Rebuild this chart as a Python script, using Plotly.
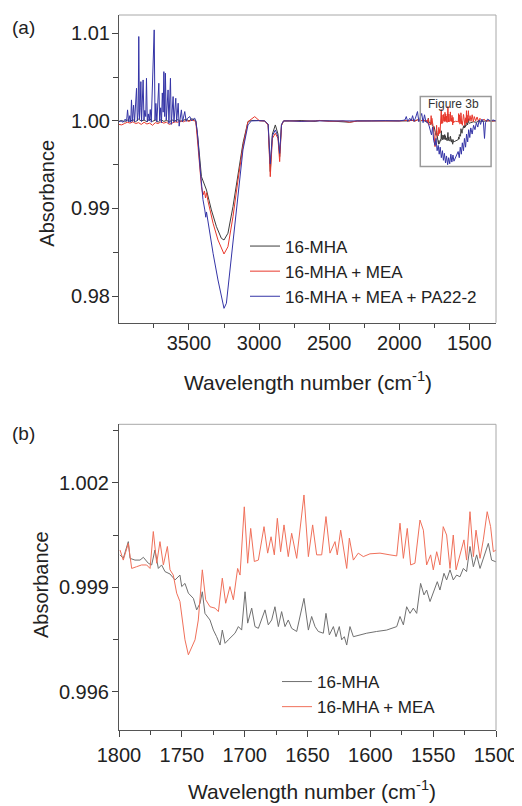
import plotly.graph_objects as go

# ---------------- Panel (a): full spectrum ----------------
# 16-MHA, high-wavenumber part (4000 -> 1810 cm-1)
a_mha_wn_hi = [4000, 3980, 3960, 3940, 3920, 3900, 3880, 3860, 3840, 3820, 3800, 3780, 3760, 3740,
               3720, 3700, 3680, 3660, 3640, 3620, 3600, 3580, 3560, 3540, 3520, 3500, 3480, 3460,
               3451, 3435, 3411, 3375, 3340, 3304, 3269, 3250, 3222, 3186, 3150, 3115, 3079, 3055,
               3000, 2960, 2935, 2920, 2905, 2884, 2865, 2853, 2840, 2825, 2780, 2700, 2600, 2568,
               2500, 2400, 2355, 2300, 2200, 2100, 2000, 1950, 1930, 1910, 1890, 1870, 1850, 1830, 1810]
a_mha_abs_hi = [0.99995, 1.00005, 0.99990, 1.00010, 0.99995, 1.00015, 0.99990, 1.00020, 1.00000, 1.00010,
                0.99990, 1.00025, 0.99995, 1.00010, 0.99985, 1.00015, 0.99995, 1.00005, 0.99990, 1.00010,
                1.00000, 1.00015, 0.99995, 1.00005, 1.00020, 1.00000, 1.00025, 1.00010,
                1.00000, 0.99783, 0.99363, 0.99211, 0.98983, 0.98792, 0.98659, 0.98640, 0.98717, 0.99021,
                0.99402, 0.99745, 0.99992, 1.00005,
                1.00005, 1.00000, 0.99960, 0.99421, 0.99850, 0.99954, 0.99850, 0.99592, 0.99950, 1.00000,
                1.00000, 1.00005, 0.99995, 1.00005, 1.00000, 0.99995, 0.99985, 1.00000, 1.00002, 0.99998,
                1.00000, 1.00005, 1.00000, 1.00010, 0.99998, 1.00012, 1.00000, 1.00008, 0.99998]
a_mha_wn_lo = [1490, 1470, 1450, 1430, 1410, 1390, 1370, 1350, 1330, 1310]
a_mha_abs_lo = [0.99980, 0.99990, 0.99985, 1.00000, 0.99995, 1.00000, 1.00002, 0.99998, 1.00000, 1.00000]

# 16-MHA + MEA
a_mea_wn_hi = [4000, 3980, 3960, 3940, 3920, 3900, 3880, 3860, 3840, 3820, 3800, 3780, 3760, 3740,
               3720, 3700, 3680, 3660, 3640, 3620, 3600, 3580, 3560, 3540, 3520, 3500, 3480, 3460,
               3451, 3435, 3411, 3400, 3390, 3382, 3375, 3365, 3328, 3293, 3250, 3222, 3186, 3150,
               3115, 3079, 3031, 2996, 2960, 2935, 2920, 2905, 2884, 2865, 2853, 2840, 2825, 2780,
               2700, 2600, 2568, 2500, 2400, 2355, 2300, 2200, 2100, 2000, 1950, 1930, 1910, 1890,
               1870, 1850, 1830, 1810]
a_mea_abs_hi = [0.99960, 0.99955, 0.99970, 0.99985, 0.99975, 0.99990, 0.99970, 0.99980, 0.99960, 0.99985,
                0.99965, 0.99975, 0.99950, 0.99980, 0.99970, 0.99990, 0.99975, 0.99985, 0.99960, 0.99980,
                0.99990, 0.99985, 1.00000, 0.99990, 1.00005, 0.99995, 1.00010, 1.00000,
                0.99990, 0.99700, 0.99250, 0.99154, 0.99200, 0.99120, 0.99180, 0.99090, 0.98831, 0.98640,
                0.98480, 0.98563, 0.98906, 0.99326,
                0.99706, 0.99992, 1.00049, 1.00000, 1.00000, 0.99950, 0.99363, 0.99800, 0.99859, 0.99800,
                0.99535, 0.99950, 1.00000, 1.00000,
                0.99995, 1.00000, 1.00005, 0.99995, 1.00000, 0.99985, 0.99998, 1.00000, 0.99998, 1.00000,
                1.00005, 1.00000, 1.00008, 0.99998,
                1.00012, 1.00000, 1.00010, 1.00000]
a_mea_wn_lo = [1495, 1488, 1480, 1472, 1465, 1455, 1445, 1435, 1425, 1410, 1395, 1380, 1360, 1340, 1320, 1310]
a_mea_abs_lo = [1.00060, 0.99995, 1.00070, 0.99990, 1.00050, 1.00000, 1.00045, 0.99995, 1.00030, 1.00000,
                1.00020, 0.99995, 1.00005, 0.99998, 1.00002, 1.00000]

# 16-MHA + MEA + PA22-2
a_pa_wn = [4000, 3985, 3970, 3955, 3945, 3938, 3930, 3922, 3915, 3910, 3903, 3895, 3888, 3880, 3874,
           3868, 3862, 3858, 3853, 3848, 3843, 3838, 3832, 3827, 3821, 3815, 3808, 3803, 3797, 3790,
           3783, 3776, 3769, 3763, 3755, 3748, 3742, 3736, 3729, 3722, 3715, 3709, 3702, 3696, 3690,
           3684, 3679, 3673, 3668, 3662, 3656, 3649, 3643, 3638, 3632, 3626, 3619, 3613, 3607, 3600,
           3594, 3588, 3582, 3577, 3570, 3563, 3554, 3546, 3538, 3530, 3520, 3510, 3494, 3480, 3470,
           3459, 3451, 3440, 3420, 3411, 3400, 3387, 3380, 3375, 3364, 3345, 3328, 3293, 3262, 3250,
           3233, 3210, 3186, 3150, 3115, 3079, 3055, 3000, 2960, 2935, 2920, 2905, 2884, 2865, 2853,
           2840, 2825, 2780, 2700, 2600, 2500, 2400, 2300, 2200, 2100, 2050, 2000, 1960, 1950, 1940,
           1925, 1915, 1905, 1895, 1885, 1870, 1860, 1850, 1840, 1830, 1820, 1810, 1800, 1790, 1780,
           1770, 1762, 1755, 1745, 1738, 1730, 1722, 1715, 1708, 1700, 1692, 1685, 1678, 1670, 1663,
           1655, 1648, 1640, 1632, 1625, 1617, 1610, 1600, 1590, 1580, 1572, 1565, 1557, 1550, 1542,
           1535, 1527, 1520, 1512, 1505, 1497, 1490, 1480, 1470, 1460, 1450, 1440, 1430, 1420, 1410,
           1400, 1392, 1385, 1370, 1350, 1330, 1310]
a_pa_abs = [0.99990, 1.00000, 0.99985, 1.00020, 0.99995, 1.00126, 0.99990, 1.00060, 0.99985, 1.00240,
            0.99995, 1.00180, 0.99990, 1.00250, 1.00373, 1.00000, 1.00100, 1.00964, 1.00020, 1.00150,
            1.00449, 0.99995, 1.00200, 1.00468, 1.00010, 1.00120, 1.00050, 1.00487, 0.99990, 1.00080,
            1.00000, 1.00130, 0.99985, 1.00240, 1.00678, 1.01040, 1.00010, 1.00200, 0.99990, 1.00280,
            1.00430, 1.00000, 1.00150, 0.99980, 1.00320, 1.00100, 1.00563, 1.00050, 1.00545, 1.00010,
            1.00250, 1.00354, 0.99970, 1.00180, 1.00487, 0.99960, 1.00120, 1.00278, 0.99985, 1.00150,
            1.00259, 0.99990, 1.00080, 1.00202, 0.99940, 1.00050, 1.00126, 0.99990, 1.00040, 1.00107,
            0.99995, 1.00030, 1.00050, 1.00000, 1.00020,
            1.00031, 1.00000, 0.99870, 0.99450, 0.99288, 0.99100, 0.98983, 0.98900, 0.98960, 0.98849,
            0.98650, 0.98488, 0.98183, 0.97917, 0.97859,
            0.97917, 0.98259, 0.98678, 0.99211, 0.99669, 0.99954, 1.00000, 1.00003, 1.00000, 0.99960,
            0.99510, 0.99830, 0.99897, 0.99820, 0.99630,
            0.99960, 1.00000, 1.00000, 0.99995, 1.00000, 0.99998, 1.00000, 0.99995, 1.00000, 1.00003,
            0.99998, 1.00000, 1.00010, 1.00050, 0.99995,
            1.00030, 1.00000, 1.00060, 0.99995, 1.00030, 1.00107, 0.99990, 1.00040, 1.00085, 0.99980,
            1.00070, 0.99990, 0.99985, 0.99960, 0.99900,
            0.99840, 0.99930, 0.99780, 0.99720, 0.99800, 0.99660, 0.99720, 0.99620, 0.99700, 0.99580,
            0.99660, 0.99550, 0.99630, 0.99520, 0.99600,
            0.99500, 0.99580, 0.99510, 0.99620, 0.99530, 0.99610, 0.99540, 0.99580, 0.99600, 0.99650,
            0.99580, 0.99700, 0.99620, 0.99750, 0.99660,
            0.99800, 0.99700, 0.99850, 0.99760, 0.99900, 0.99810, 0.99920, 0.99850, 0.99950, 0.99900,
            0.99980, 0.99930, 1.00010, 0.99960, 1.00020,
            0.99990, 0.99800, 0.99980, 1.00020, 1.00000, 1.00010, 1.00000]

# ---------------- Panel (b): 1800-1500 cm-1 detail ----------------
b_mha_wn = [1799.2, 1796.6, 1792.6, 1791.2, 1787.3, 1783.3, 1780.6, 1776.7, 1774.0, 1771.4, 1768.7,
            1766.1, 1763.4, 1759.4, 1755.4, 1751.5, 1750.1, 1747.5, 1744.8, 1740.8, 1738.2, 1735.5,
            1733.7, 1731.6, 1727.6, 1724.9, 1722.3, 1719.6, 1717.8, 1715.6, 1713.0, 1710.3, 1707.7,
            1705.0, 1702.4, 1699.7, 1697.6, 1694.4, 1691.8, 1689.1, 1686.5, 1683.8, 1681.2, 1678.5,
            1675.9, 1673.2, 1670.6, 1667.9, 1665.3, 1662.6, 1658.6, 1652.8, 1649.3, 1646.7, 1644.0,
            1641.4, 1637.4, 1635.3, 1632.6, 1629.4, 1627.3, 1624.7, 1622.8, 1620.7, 1618.8, 1616.2,
            1613.5, 1608.2, 1602.9, 1595.0, 1587.0, 1579.0, 1576.4, 1573.7, 1571.1, 1568.4, 1565.8,
            1563.1, 1560.0, 1557.3, 1555.2, 1552.5, 1549.9, 1546.7, 1544.6, 1541.4, 1539.3, 1536.6,
            1534.0, 1531.3, 1528.7, 1526.0, 1523.4, 1520.7, 1518.0, 1515.4, 1512.7, 1510.1, 1506.1,
            1503.5, 1500.0]
b_mha_abs = [0.99993, 0.99983, 1.00031, 0.99983, 0.99978, 0.99978, 0.99986, 0.99969, 0.99964, 1.00007,
             0.99954, 0.99964, 0.99945, 0.99938, 0.99921, 0.99935, 0.99902, 0.99911, 0.99883, 0.99868,
             0.99835, 0.99854, 0.99887, 0.99825, 0.99806, 0.99777, 0.99758, 0.99734, 0.99777, 0.99739,
             0.99749, 0.99758, 0.99768, 0.99787, 0.99777, 0.99887, 0.99797, 0.99840, 0.99787, 0.99782,
             0.99806, 0.99835, 0.99792, 0.99806, 0.99844, 0.99787, 0.99830, 0.99787, 0.99806, 0.99782,
             0.99773, 0.99868, 0.99777, 0.99816, 0.99787, 0.99773, 0.99768, 0.99825, 0.99763, 0.99787,
             0.99758, 0.99787, 0.99749, 0.99758, 0.99734, 0.99787, 0.99758, 0.99763, 0.99768, 0.99773,
             0.99777, 0.99787, 0.99816, 0.99792, 0.99844, 0.99825, 0.99840, 0.99825, 0.99911, 0.99878,
             0.99892, 0.99859, 0.99887, 0.99916, 0.99892, 0.99940, 0.99921, 0.99950, 0.99921, 0.99935,
             0.99930, 0.99954, 0.99945, 1.00017, 0.99959, 0.99993, 0.99954, 0.99983, 1.00026, 0.99978,
             0.99973]
b_mea_wn = [1799.2, 1796.6, 1792.6, 1789.9, 1786.0, 1782.0, 1778.0, 1775.3, 1772.7, 1770.0, 1767.4,
            1764.7, 1761.5, 1759.4, 1756.8, 1754.1, 1751.5, 1750.1, 1747.5, 1744.8, 1742.2, 1739.5,
            1736.9, 1733.7, 1731.0, 1727.6, 1723.6, 1720.9, 1717.8, 1715.1, 1711.7, 1709.0, 1705.6,
            1703.7, 1700.3, 1697.6, 1695.2, 1692.3, 1689.1, 1684.6, 1681.7, 1679.0, 1676.4, 1674.0,
            1671.4, 1668.7, 1665.3, 1662.6, 1658.6, 1652.8, 1649.3, 1645.9, 1642.7, 1638.7, 1635.3,
            1632.1, 1628.1, 1626.3, 1623.6, 1618.8, 1616.7, 1613.5, 1609.6, 1605.6, 1600.3, 1592.3,
            1584.4, 1579.0, 1576.4, 1573.7, 1570.6, 1567.9, 1564.5, 1560.5, 1557.8, 1555.2, 1552.0,
            1549.9, 1547.2, 1544.6, 1542.0, 1539.3, 1536.6, 1534.0, 1531.8, 1528.1, 1525.5, 1523.4,
            1520.7, 1518.0, 1515.9, 1512.7, 1510.1, 1507.0, 1504.3, 1502.1, 1500.0]
b_mea_abs = [1.00007, 0.99978, 1.00026, 0.99954, 0.99959, 0.99964, 0.99964, 0.99954, 1.00060, 0.99969,
             1.00031, 0.99964, 1.00017, 0.99950, 0.99935, 0.99883, 0.99859, 0.99816, 0.99749, 0.99706,
             0.99730, 0.99749, 0.99806, 0.99950, 0.99864, 0.99844, 0.99840, 0.99830, 0.99926, 0.99854,
             0.99902, 0.99864, 0.99954, 0.99935, 1.00131, 0.99969, 1.00069, 0.99974, 0.99978, 1.00074,
             0.99998, 1.00045, 0.99993, 1.00098, 1.00002, 1.00079, 0.99988, 1.00055, 0.99983, 1.00165,
             0.99988, 1.00079, 0.99993, 0.99993, 1.00103, 0.99998, 1.00031, 0.99993, 1.00064, 0.99954,
             1.00041, 0.99978, 0.99998, 0.99988, 0.99996, 0.99998, 0.99993, 0.99990, 1.00084, 0.99983,
             1.00069, 0.99964, 0.99969, 1.00093, 1.00064, 0.99964, 0.99993, 0.99950, 1.00002, 0.99964,
             1.00074, 1.00050, 0.99954, 1.00050, 0.99950, 0.99998, 1.00036, 0.99978, 1.00117, 0.99988,
             1.00064, 0.99983, 1.00036, 1.00117, 1.00074, 1.00002, 1.00007]

series_names = ["16-MHA", "16-MHA + MEA", "16-MHA + MEA + PA22-2"]

# full panel-(a) series (the 1800-1500 part is the same measurement as panel b)
a_mha_wn = a_mha_wn_hi + b_mha_wn + a_mha_wn_lo
a_mha_abs = a_mha_abs_hi + b_mha_abs + a_mha_abs_lo
a_mea_wn = a_mea_wn_hi + b_mea_wn + a_mea_wn_lo
a_mea_abs = a_mea_abs_hi + b_mea_abs + a_mea_abs_lo

FONT = "Liberation Sans, Arial, Helvetica, sans-serif"
OFF = 8                      # page body margin of the html page
W, H = 522 - OFF, 806 - OFF  # figure size so that it fills the window


def px(xp):   # page x pixel -> paper fraction
    return (xp - OFF) / W


def py(yp):   # page y pixel -> paper fraction
    return 1 - (yp - OFF) / H


fig = go.Figure()
fig.add_trace(go.Scatter(x=a_mha_wn, y=a_mha_abs, mode="lines", name=series_names[0],
                         line=dict(color="#3c3c3c", width=1), xaxis="x", yaxis="y", legend="legend"))
fig.add_trace(go.Scatter(x=a_mea_wn, y=a_mea_abs, mode="lines", name=series_names[1],
                         line=dict(color="#e8382c", width=1), xaxis="x", yaxis="y", legend="legend"))
fig.add_trace(go.Scatter(x=a_pa_wn, y=a_pa_abs, mode="lines", name=series_names[2],
                         line=dict(color="#3434a6", width=1), xaxis="x", yaxis="y", legend="legend"))
fig.add_trace(go.Scatter(x=b_mha_wn, y=b_mha_abs, mode="lines", name=series_names[0],
                         line=dict(color="#707070", width=1), xaxis="x2", yaxis="y2", legend="legend2"))
fig.add_trace(go.Scatter(x=b_mea_wn, y=b_mea_abs, mode="lines", name=series_names[1],
                         line=dict(color="#f0705a", width=1), xaxis="x2", yaxis="y2", legend="legend2"))

axis_common = dict(showgrid=False, zeroline=False, showline=True, linecolor="#555", linewidth=1,
                   ticks="outside", ticklen=6, tickwidth=1, tickcolor="#444", mirror=False,
                   automargin=False,
                   tickfont=dict(size=20, color="#222", family=FONT))

xd = [px(119), px(496)]
fig.update_layout(
    width=W, height=H, margin=dict(l=0, r=0, t=0, b=0, pad=0, autoexpand=False),
    paper_bgcolor="white", plot_bgcolor="white",
    font=dict(family=FONT, color="#222"),
    xaxis=dict(domain=xd, anchor="y", range=[3999, 1310], tickmode="linear", tick0=1500, dtick=500,
               minor=dict(ticks="outside", ticklen=4, tickcolor="#444", tick0=1250, dtick=250),
               ticklabelstandoff=-4, **axis_common),
    yaxis=dict(domain=[py(322.7), py(15)], anchor="x", range=[0.97695, 1.0121],
               tickmode="linear", tick0=0.98, dtick=0.01, tickformat=".2f",
               minor=dict(ticks="outside", ticklen=5, tickcolor="#444", tick0=0.975, dtick=0.005),
               ticklabelstandoff=-2, **axis_common),
    xaxis2=dict(domain=xd, anchor="y2", range=[1800, 1500], tickmode="linear", tick0=1500, dtick=50,
                minor=dict(ticks="outside", ticklen=4, tickcolor="#444", tick0=1475, dtick=25),
                ticklabelstandoff=1, **axis_common),
    yaxis2=dict(domain=[py(730), py(424.3)], anchor="x2", range=[0.9949, 1.00368],
                tickmode="linear", tick0=0.996, dtick=0.003, tickformat=".3f",
                minor=dict(ticks="outside", ticklen=5, tickcolor="#444", tick0=0.9945, dtick=0.0015),
                ticklabelstandoff=-1, **axis_common),
    legend=dict(x=px(245), y=py(228.5), xanchor="left", yanchor="top", bgcolor="rgba(0,0,0,0)",
                font=dict(size=17, color="#222", family=FONT), tracegroupgap=0),
    legend2=dict(x=px(277), y=py(664), xanchor="left", yanchor="top", bgcolor="rgba(0,0,0,0)",
                 font=dict(size=17, color="#222", family=FONT), tracegroupgap=0),
)

shapes = []
for xr, yr in (("x domain", "y domain"), ("x2 domain", "y2 domain")):
    shapes.append(dict(type="line", xref=xr, yref=yr, x0=0, x1=1, y0=1, y1=1,
                       line=dict(color="#a8a8a8", width=1)))
    shapes.append(dict(type="line", xref=xr, yref=yr, x0=1, x1=1, y0=0, y1=1,
                       line=dict(color="#a8a8a8", width=1)))
# "Figure 3b" inset frame in panel (a)
shapes.append(dict(type="rect", xref="x", yref="y", x0=1850, x1=1345, y0=0.99478, y1=1.00278,
                   line=dict(color="#9a9a9a", width=1.5), fillcolor="rgba(0,0,0,0)"))
fig.update_layout(shapes=shapes)

title_x = "Wavelength number (cm<sup>-1</sup>)"
ann = [
    dict(text="(a)", x=px(10), y=py(27), xanchor="left", yanchor="middle", font=dict(size=19)),
    dict(text="(b)", x=px(10), y=py(433), xanchor="left", yanchor="middle", font=dict(size=19)),
    dict(text="Absorbance", x=px(46.7), y=py(193), textangle=-90, xanchor="center",
         yanchor="middle", font=dict(size=20)),
    dict(text="Absorbance", x=px(41), y=py(585), textangle=-90, xanchor="center",
         yanchor="middle", font=dict(size=20)),
    dict(text=title_x, x=px(308), y=py(381), xanchor="center", yanchor="middle",
         font=dict(size=21)),
    dict(text=title_x, x=px(312), y=py(790), xanchor="center", yanchor="middle",
         font=dict(size=21)),
    dict(text="Figure 3b", x=px(426), y=py(104.5), xanchor="left", yanchor="middle",
         font=dict(size=12, color="#333")),
]
for a in ann:
    a.update(xref="paper", yref="paper", showarrow=False)
    a.setdefault("font", {})
    a["font"].setdefault("color", "#222")
    a["font"]["family"] = FONT
fig.update_layout(annotations=ann)

fig.write_html("out.html")
